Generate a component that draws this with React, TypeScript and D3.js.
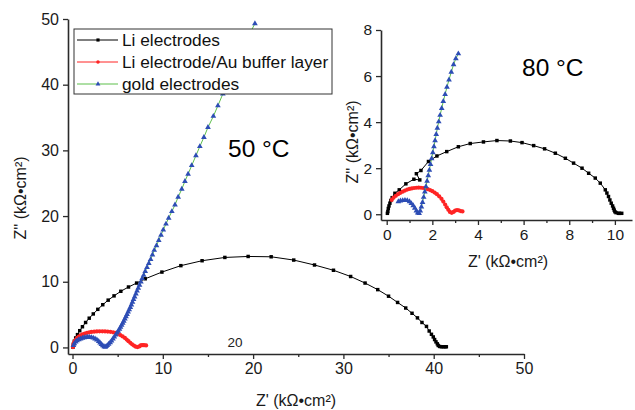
import { useEffect, useRef } from "react"
import * as d3 from "d3"

type Pt = [number, number]

// 50 °C impedance spectra (Z', Z'') in kΩ·cm²
const li50: Pt[] = [
  [0.05, 0.05], [0.1, 0.5], [0.2, 0.95], [0.35, 1.45], [0.55, 1.95], [0.8, 2.55], [1.1, 3.15],
  [1.45, 3.8], [1.85, 4.45], [2.3, 5.1], [2.8, 5.8], [3.35, 6.5], [3.95, 7.2], [4.6, 7.85],
  [5.35, 8.55], [6.2, 9.2], [7.1, 9.8], [8.05, 10.45], [9.9, 11.47], [12.0, 12.45], [14.35, 13.2],
  [16.87, 13.7], [19.45, 13.85], [22.0, 13.8], [24.5, 13.3], [26.8, 12.55], [28.9, 11.75],
  [30.8, 10.8], [32.4, 9.8], [33.8, 8.8], [35.0, 7.8], [36.0, 6.85], [36.9, 6.0], [37.6, 5.2],
  [38.2, 4.5], [38.7, 3.8], [39.2, 3.2], [39.5, 2.5], [39.75, 2.0], [39.95, 1.6], [40.1, 1.2],
  [40.25, 0.85], [40.4, 0.55], [40.5, 0.3], [40.65, 0.15], [40.85, 0.1], [41.05, 0.1],
  [41.25, 0.1], [41.4, 0.1],
]
const au50: Pt[] = [
  [0.05, 0.05], [0.08, 0.35], [0.15, 0.65], [0.25, 0.95], [0.38, 1.2], [0.52, 1.45], [0.7, 1.65],
  [0.9, 1.85], [1.1, 2.0], [1.35, 2.12], [1.6, 2.22], [1.85, 2.3], [2.1, 2.36], [2.4, 2.4],
  [2.7, 2.43], [3.0, 2.45], [3.3, 2.45], [3.6, 2.44], [3.9, 2.42], [4.2, 2.38], [4.5, 2.3],
  [4.8, 2.2], [5.05, 2.05], [5.3, 1.88], [5.55, 1.68], [5.8, 1.45], [6.0, 1.2], [6.2, 0.95],
  [6.4, 0.7], [6.6, 0.48], [6.8, 0.28], [7.0, 0.12], [7.2, 0.05], [7.4, 0.15], [7.55, 0.3],
  [7.7, 0.35], [7.85, 0.35], [8.0, 0.33], [8.15, 0.3],
]
const gold50: Pt[] = [
  [0.1, 0.3], [0.2, 0.6], [0.35, 0.85], [0.5, 1.05], [0.7, 1.2], [0.9, 1.32], [1.1, 1.42],
  [1.3, 1.5], [1.5, 1.55], [1.7, 1.57], [1.9, 1.56], [2.1, 1.52], [2.3, 1.44], [2.5, 1.32],
  [2.7, 1.15], [2.9, 0.92], [3.05, 0.7], [3.2, 0.48], [3.35, 0.28], [3.5, 0.12], [3.62, 0.05],
  [3.72, 0.15], [3.85, 0.3], [4.0, 0.5], [4.17, 0.75], [4.32, 1.0], [4.48, 1.3], [4.63, 1.6],
  [4.78, 1.9], [4.92, 2.2], [5.06, 2.5], [5.2, 2.8], [5.32, 3.1], [5.44, 3.4], [5.56, 3.7],
  [5.68, 4.0], [5.8, 4.35], [5.92, 4.7], [6.04, 5.05], [6.16, 5.4], [6.28, 5.75], [6.4, 6.1],
  [6.52, 6.5], [6.64, 6.9], [6.76, 7.3], [6.88, 7.7], [7.02, 8.15], [7.15, 8.6], [7.28, 9.05],
  [7.42, 9.5], [7.57, 10.0], [7.72, 10.5], [7.88, 11.0], [8.05, 11.6], [8.25, 12.2], [8.45, 12.8],
  [8.65, 13.4], [8.85, 14.1], [9.05, 14.8], [9.3, 15.5], [9.55, 16.3], [9.8, 17.1], [10.05, 17.9],
  [10.35, 18.8], [10.65, 19.7], [11.0, 20.7], [11.35, 21.7], [11.7, 22.9], [12.1, 24.1],
  [12.45, 25.3], [12.8, 26.4], [13.2, 27.7], [13.67, 29.2], [14.1, 30.6], [14.55, 32.0],
  [15.0, 33.5], [15.6, 35.2], [16.1, 36.8], [16.65, 38.6], [17.2, 40.5], [17.8, 42.5],
  [18.5, 44.6], [19.3, 46.9], [20.2, 49.3],
]

// 80 °C inset
const li80: Pt[] = [
  [0.03, 0.04], [0.05, 0.12], [0.07, 0.25], [0.1, 0.36], [0.14, 0.48], [0.18, 0.6], [0.24, 0.72],
  [0.36, 0.91], [0.55, 1.06], [0.84, 1.32], [1.19, 1.52], [1.45, 1.49], [1.3, 1.76], [1.5, 1.9],
  [1.83, 2.29], [2.2, 2.53], [2.63, 2.72], [3.14, 2.93], [3.66, 3.07], [4.24, 3.14], [4.83, 3.2],
  [5.42, 3.18], [5.93, 3.11], [6.44, 2.98], [6.92, 2.84], [7.39, 2.65], [7.83, 2.43], [8.19, 2.22],
  [8.56, 2.0], [8.85, 1.78], [9.14, 1.57], [9.36, 1.35], [9.58, 1.06], [9.65, 0.92], [9.72, 0.77],
  [9.78, 0.62], [9.84, 0.48], [9.9, 0.36], [9.94, 0.26], [9.97, 0.18], [10.0, 0.11], [10.05, 0.07],
  [10.15, 0.04], [10.2, 0.04], [10.3, 0.04],
]
const au80: Pt[] = [
  [0.22, 0.62], [0.3, 0.72], [0.4, 0.8], [0.5, 0.87], [0.6, 0.93], [0.7, 0.98], [0.8, 1.03],
  [0.9, 1.07], [1.0, 1.1], [1.1, 1.12], [1.2, 1.14], [1.3, 1.15], [1.4, 1.16], [1.5, 1.15],
  [1.6, 1.14], [1.7, 1.12], [1.8, 1.09], [1.9, 1.05], [2.0, 1.0], [2.1, 0.94], [2.2, 0.87],
  [2.3, 0.78], [2.4, 0.67], [2.48, 0.55], [2.56, 0.42], [2.63, 0.3], [2.7, 0.19], [2.77, 0.1],
  [2.85, 0.06], [2.93, 0.1], [3.0, 0.16], [3.08, 0.18], [3.16, 0.17], [3.24, 0.14], [3.32, 0.12],
]
const gold80: Pt[] = [
  [0.51, 0.55], [0.6, 0.58], [0.7, 0.6], [0.8, 0.61], [0.9, 0.6], [1.0, 0.55], [1.08, 0.47],
  [1.16, 0.38], [1.23, 0.27], [1.3, 0.15], [1.36, 0.06], [1.42, 0.04], [1.47, 0.15], [1.52, 0.32],
  [1.57, 0.52], [1.62, 0.74], [1.67, 0.97], [1.72, 1.2], [1.77, 1.44], [1.82, 1.68], [1.87, 1.92],
  [1.92, 2.17], [1.97, 2.42], [2.02, 2.68], [2.07, 2.94], [2.12, 3.2], [2.17, 3.47], [2.22, 3.74],
  [2.28, 4.02], [2.34, 4.3], [2.41, 4.6], [2.48, 4.9], [2.56, 5.21], [2.64, 5.52], [2.73, 5.84],
  [2.83, 6.17], [2.93, 6.5], [3.03, 6.76], [3.14, 6.97],
]

const seriesNames = ["Li electrodes", "Li electrode/Au buffer layer", "gold electrodes"]

const mainXTicks = [0, 10, 20, 30, 40, 50]
const mainXMinor = [5, 15, 25, 35, 45]
const mainYTicks = [0, 10, 20, 30, 40, 50]
const insetXTicks = [0, 2, 4, 6, 8, 10]
const insetXMinor = [1, 3, 5, 7, 9]
const insetYTicks = [0, 2, 4, 6, 8]

const FONT = "'Liberation Sans', Arial, sans-serif"
const AXIS = "#2a2a2a"

const styles = [
  { line: "#000000", fill: "#000000", symbol: d3.symbolSquare, size: 12 },
  { line: "#ff2424", fill: "#ff2424", symbol: d3.symbolCircle, size: 14 },
  { line: "#5cbf4a", fill: "#2d4db5", symbol: d3.symbolTriangle, size: 14 },
]

type Panel = {
  x: d3.ScaleLinear<number, number>
  y: d3.ScaleLinear<number, number>
  xTicks: number[]
  xMinor: number[]
  yTicks: number[]
  fontSize: number
}

function drawAxes(g: d3.Selection<SVGGElement, unknown, null, undefined>, p: Panel) {
  const [x0] = p.x.range()
  const [y0] = p.y.range()

  const xa = g.append("g").attr("transform", `translate(0,${y0})`)
    .call(d3.axisBottom(p.x).tickValues(p.xTicks).tickSize(5).tickSizeOuter(0).tickPadding(4))
  g.append("g").attr("transform", `translate(0,${y0})`)
    .call(d3.axisBottom(p.x).tickValues(p.xMinor).tickSize(3).tickSizeOuter(0).tickFormat(() => ""))
    .select(".domain").remove()
  const ya = g.append("g").attr("transform", `translate(${x0},0)`)
    .call(d3.axisLeft(p.y).tickValues(p.yTicks).tickSize(5).tickSizeOuter(0).tickPadding(4))

  for (const a of [xa, ya]) {
    a.selectAll("text").attr("fill", "#1a1a1a").style("font-size", `${p.fontSize}px`).style("font-family", FONT)
  }
  g.selectAll(".domain").attr("stroke", AXIS).attr("stroke-width", 1.6)
  g.selectAll(".tick line").attr("stroke", AXIS).attr("stroke-width", 1.3)
}

function drawSeries(g: d3.Selection<SVGGElement, unknown, null, undefined>, p: Panel, data: Pt[], i: number) {
  const s = styles[i]
  const line = d3.line<Pt>().x((d) => p.x(d[0])).y((d) => p.y(d[1]))
  g.append("path").datum(data).attr("fill", "none").attr("stroke", s.line).attr("stroke-width", 1).attr("d", line)
  g.selectAll(null).data(data).enter().append("path")
    .attr("transform", (d) => `translate(${p.x(d[0])},${p.y(d[1])})`)
    .attr("d", d3.symbol(s.symbol, s.size)())
    .attr("fill", s.fill)
}

export default function App() {
  const svgRef = useRef<SVGSVGElement>(null)

  useEffect(() => {
    if (!svgRef.current) return
    const svg = d3.select(svgRef.current)
    svg.selectAll("*").remove()

    // main panel (50 °C)
    const main: Panel = {
      x: d3.scaleLinear().domain([-0.5, 50]).range([68, 524]),
      y: d3.scaleLinear().domain([-1, 50]).range([354, 19]),
      xTicks: mainXTicks, xMinor: mainXMinor, yTicks: mainYTicks, fontSize: 16,
    }
    const gm = svg.append("g")
    drawAxes(gm, main)
    drawSeries(gm, main, li50, 0)
    drawSeries(gm, main, au50, 1)
    drawSeries(gm, main, gold50, 2)

    gm.append("text").attr("x", 235).attr("y", 347).attr("text-anchor", "middle")
      .style("font-size", "13.5px").style("font-family", FONT).attr("fill", "#222").text("20")
    gm.append("text").attr("x", 228).attr("y", 157)
      .style("font-size", "24.5px").style("font-family", FONT).attr("fill", "#000").text("50 °C")
    gm.append("text").attr("x", 296).attr("y", 406).attr("text-anchor", "middle")
      .style("font-size", "16px").style("font-family", FONT).attr("fill", "#1a1a1a").text("Z' (kΩ•cm²)")
    gm.append("text").attr("transform", "translate(26,198) rotate(-90)").attr("text-anchor", "middle")
      .style("font-size", "16px").style("font-family", FONT).attr("fill", "#1a1a1a").text("Z'' (kΩ•cm²)")

    // legend
    const lg = svg.append("g")
    lg.append("rect").attr("x", 74).attr("y", 29).attr("width", 258).attr("height", 65)
      .attr("fill", "white").attr("stroke", "#333").attr("stroke-width", 1)
    seriesNames.forEach((name, i) => {
      const yy = 40 + i * 22
      const s = styles[i]
      lg.append("line").attr("x1", 77).attr("x2", 118).attr("y1", yy).attr("y2", yy)
        .attr("stroke", s.line).attr("stroke-width", 1)
      lg.append("path").attr("transform", `translate(98,${yy})`).attr("d", d3.symbol(s.symbol, 10)()).attr("fill", s.fill)
      lg.append("text").attr("x", 122).attr("y", yy + 6)
        .style("font-size", "17.3px").style("font-family", FONT).attr("fill", "#111").text(name)
    })

    // inset (80 °C)
    const inset: Panel = {
      x: d3.scaleLinear().domain([-0.25, 10.75]).range([381, 632]),
      y: d3.scaleLinear().domain([-0.25, 8]).range([220, 30]),
      xTicks: insetXTicks, xMinor: insetXMinor, yTicks: insetYTicks, fontSize: 15.5,
    }
    const gi = svg.append("g")
    drawAxes(gi, inset)
    drawSeries(gi, inset, li80, 0)
    drawSeries(gi, inset, au80, 1)
    drawSeries(gi, inset, gold80, 2)

    gi.append("text").attr("x", 522).attr("y", 76)
      .style("font-size", "24.5px").style("font-family", FONT).attr("fill", "#000").text("80 °C")
    gi.append("text").attr("x", 508).attr("y", 267).attr("text-anchor", "middle")
      .style("font-size", "16px").style("font-family", FONT).attr("fill", "#1a1a1a").text("Z' (kΩ•cm²)")
    gi.append("text").attr("transform", "translate(358,142) rotate(-90)").attr("text-anchor", "middle")
      .style("font-size", "16px").style("font-family", FONT).attr("fill", "#1a1a1a").text("Z'' (kΩ•cm²)")
  }, [])

  return (
    <svg ref={svgRef} width={635} height={410}
      style={{ position: "absolute", left: 0, top: 0, background: "white" }} />
  )
}
